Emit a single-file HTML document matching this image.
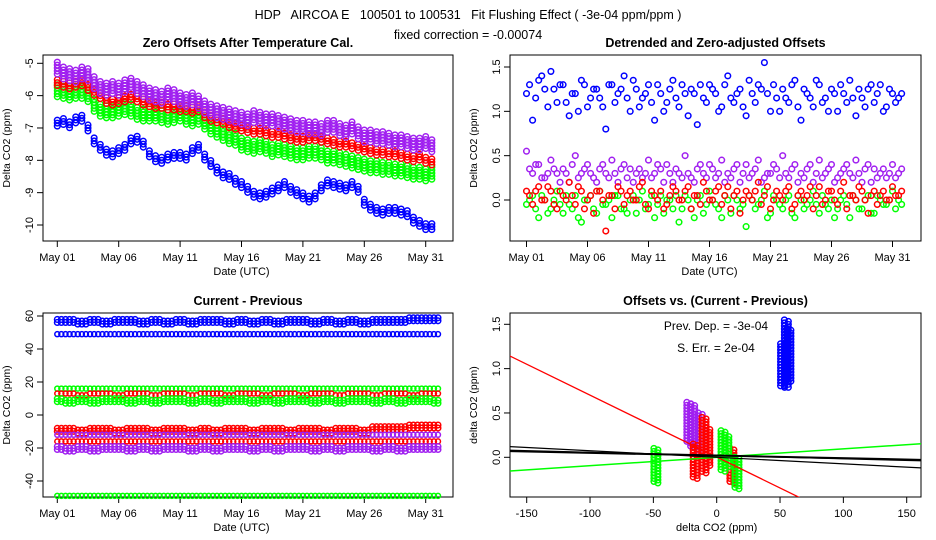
<!DOCTYPE html>
<html><head><meta charset="utf-8"><style>
html,body{margin:0;padding:0;background:#fff}
svg{display:block;font-family:"Liberation Sans",sans-serif}
</style></head><body>
<svg id="c" width="936" height="540" viewBox="0 0 936 540">
<text x="468" y="19" text-anchor="middle" font-size="12.5" style="white-space:pre" xml:space="preserve">HDP   AIRCOA E   100501 to 100531   Fit Flushing Effect ( -3e-04 ppm/ppm )</text>
<text x="468" y="39" text-anchor="middle" font-size="12.5">fixed correction = -0.00074</text>
</svg>
<script>
// ---------- data ----------
const dayLabels = ["May 01","May 06","May 11","May 16","May 21","May 26","May 31"];
const dayTicks = [0,5,10,15,20,25,30];
const p1Ticks = [-5,-6,-7,-8,-9,-10];
const p2Ticks = [0,0.5,1,1.5];
const p2TickLabels = ["0.0","0.5","1.0","1.5"];
const p3Ticks = [60,40,20,0,-20,-40];
const p4XTicks = [-150,-100,-50,0,50,100,150];
const p4YTicks = [0,0.5,1,1.5];

const p1Purple = [-5.15,-5.3,-5.35,-5.4,-5.3,-5.35,-5.6,-5.75,-5.8,-5.75,-5.8,-5.7,-5.65,-5.75,-5.85,-5.95,-6.0,-6.05,-5.95,-6.0,-6.1,-6.15,-6.1,-6.2,-6.35,-6.45,-6.5,-6.55,-6.6,-6.65,-6.7,-6.75,-6.65,-6.7,-6.75,-6.75,-6.8,-6.85,-6.9,-6.95,-6.95,-7.0,-7.0,-7.05,-6.95,-6.95,-7.05,-7.1,-7.0,-7.15,-7.25,-7.25,-7.3,-7.3,-7.35,-7.4,-7.4,-7.45,-7.5,-7.5,-7.45,-7.55];
const p1Red = [-5.6,-5.65,-5.7,-5.65,-5.6,-5.75,-5.9,-6.0,-6.15,-6.2,-6.15,-6.1,-6.05,-6.1,-6.2,-6.25,-6.3,-6.3,-6.35,-6.35,-6.4,-6.4,-6.45,-6.4,-6.6,-6.7,-6.75,-6.8,-6.9,-6.95,-7.0,-7.05,-7.1,-7.1,-7.15,-7.2,-7.2,-7.25,-7.3,-7.35,-7.35,-7.3,-7.3,-7.35,-7.4,-7.45,-7.5,-7.5,-7.55,-7.6,-7.65,-7.7,-7.75,-7.75,-7.8,-7.8,-7.85,-7.9,-7.95,-7.9,-8.0,-8.05];
const p1Green = [-5.85,-5.9,-5.95,-5.9,-5.9,-6.0,-6.3,-6.45,-6.5,-6.5,-6.45,-6.4,-6.45,-6.55,-6.6,-6.6,-6.6,-6.65,-6.7,-6.65,-6.6,-6.7,-6.75,-6.7,-6.85,-7.0,-7.1,-7.2,-7.3,-7.35,-7.5,-7.55,-7.6,-7.55,-7.6,-7.7,-7.65,-7.7,-7.75,-7.8,-7.8,-7.75,-7.75,-7.8,-7.9,-7.9,-7.95,-8.0,-8.05,-8.1,-8.15,-8.2,-8.2,-8.25,-8.25,-8.3,-8.3,-8.35,-8.4,-8.4,-8.45,-8.4];
const p1Blue = [-6.85,-6.8,-6.9,-6.75,-6.7,-7.0,-7.4,-7.6,-7.75,-7.8,-7.7,-7.6,-7.4,-7.35,-7.5,-7.8,-7.95,-8.0,-7.9,-7.85,-7.85,-7.9,-7.7,-7.6,-7.9,-8.1,-8.3,-8.45,-8.5,-8.65,-8.75,-8.9,-9.05,-9.1,-9.05,-8.95,-8.85,-8.75,-8.9,-9.0,-9.1,-9.2,-9.1,-8.85,-8.7,-8.75,-8.8,-8.85,-8.75,-8.9,-9.3,-9.45,-9.55,-9.6,-9.55,-9.55,-9.6,-9.65,-9.85,-9.95,-10.05,-10.05];

const p2Blue = [1.2,0.9,1.35,1.25,1.45,1.1,1.3,0.95,1.2,1.35,1.05,1.25,1.15,0.8,1.3,1.2,1.4,1.0,1.25,1.15,1.3,0.9,1.2,1.1,1.35,1.05,1.2,1.25,0.85,1.15,1.3,1.2,1.05,1.4,1.1,1.25,0.95,1.2,1.3,1.55,1.0,1.15,1.25,1.1,1.35,0.9,1.2,1.05,1.3,1.15,1.25,1.0,1.2,1.35,0.95,1.15,1.25,1.1,1.3,1.05,1.2,1.15];
const p2BlueB = [1.3,1.15,1.4,1.05,1.25,1.3,1.1,1.2,1.0,1.3,1.15,1.25,1.05,1.3,1.1,1.25,1.15,1.35,1.05,1.2,1.1,1.3,1.0,1.25,1.15,1.3,0.95,1.2,1.3,1.1,1.25,1.0,1.3,1.15,1.2,1.05,1.35,1.1,1.25,1.2,1.3,1.0,1.15,1.3,1.05,1.25,1.15,1.35,1.1,1.0,1.2,1.3,1.1,1.15,1.25,1.05,1.3,1.2,1.0,1.25,1.1,1.2];
const p2Purple = [0.55,0.3,0.4,0.25,0.45,0.3,0.35,0.2,0.5,0.3,0.4,0.25,0.35,0.3,0.45,0.2,0.4,0.35,0.3,0.25,0.45,0.3,0.35,0.4,0.2,0.3,0.5,0.25,0.35,0.3,0.4,0.25,0.45,0.3,0.35,0.2,0.4,0.3,0.45,0.25,0.3,0.35,0.5,0.25,0.4,0.3,0.35,0.2,0.45,0.3,0.4,0.25,0.35,0.3,0.45,0.2,0.4,0.35,0.3,0.25,0.4,0.3];
const p2PurpleB = [0.35,0.4,0.25,0.3,0.35,0.2,0.3,0.4,0.25,0.35,0.3,0.2,0.4,0.25,0.3,0.35,0.25,0.2,0.35,0.3,0.25,0.4,0.2,0.3,0.35,0.25,0.3,0.2,0.4,0.25,0.35,0.3,0.2,0.25,0.4,0.3,0.25,0.35,0.2,0.3,0.4,0.25,0.3,0.35,0.2,0.25,0.4,0.3,0.25,0.35,0.2,0.3,0.4,0.25,0.3,0.35,0.2,0.25,0.35,0.3,0.25,0.35];
const p2Red = [0.1,-0.05,0.15,0.0,0.1,-0.1,0.05,0.2,-0.05,0.1,0.0,-0.15,0.1,-0.35,0.05,0.15,-0.05,0.1,0.0,0.2,-0.1,0.05,0.1,-0.05,0.15,0.0,0.1,-0.1,0.05,0.2,0.0,0.1,-0.05,0.15,0.05,-0.15,0.1,0.0,0.2,0.05,-0.1,0.1,0.0,0.15,-0.05,0.1,0.05,-0.1,0.15,0.0,0.1,-0.05,0.2,0.05,0.0,0.1,-0.15,0.1,0.05,0.0,0.15,0.05];
const p2RedB = [0.05,0.1,0.0,0.15,-0.05,0.1,0.0,0.05,0.15,-0.1,0.05,0.1,0.0,0.05,-0.1,0.1,0.05,0.0,0.15,-0.05,0.1,0.0,-0.1,0.05,0.1,0.0,0.15,0.05,-0.05,0.1,0.0,0.15,0.05,-0.1,0.1,0.0,0.05,0.1,-0.05,0.15,0.0,0.05,0.1,-0.1,0.05,0.0,0.15,0.05,-0.05,0.1,0.0,0.1,-0.1,0.05,0.15,0.0,0.05,-0.05,0.1,0.0,0.05,0.1];
const p2Green = [-0.05,0.05,-0.2,0.0,-0.1,0.1,-0.15,-0.05,0.05,-0.25,0.0,-0.1,0.1,-0.05,-0.2,0.05,-0.1,0.0,-0.15,0.1,-0.05,-0.2,0.05,0.0,-0.1,-0.25,0.05,-0.1,0.0,-0.15,0.1,-0.05,-0.2,0.0,0.05,-0.1,-0.3,0.0,-0.05,0.1,-0.15,0.0,-0.1,0.05,-0.2,0.0,-0.05,0.1,-0.15,-0.05,0.0,-0.1,0.05,-0.2,0.0,-0.1,0.05,-0.15,0.0,-0.05,0.1,0.0];
const p2GreenB = [0.0,-0.1,0.05,-0.15,0.0,-0.05,0.05,-0.1,-0.2,0.0,0.05,-0.15,-0.05,0.0,0.05,-0.1,-0.15,0.05,0.0,-0.1,0.05,-0.05,-0.15,0.0,0.05,-0.1,0.0,-0.2,0.05,-0.05,0.0,-0.1,0.05,-0.15,0.0,-0.05,0.05,-0.1,0.0,-0.2,0.05,-0.05,0.0,-0.15,0.05,-0.1,0.0,-0.05,0.05,-0.1,-0.2,0.0,-0.05,0.05,-0.1,0.0,-0.15,0.05,-0.05,0.0,-0.1,-0.05];

const p3BlueA = [57,57,56,57,56,57,57,56,57,56,57,56,57,57,56,57,56,57,56,57,57,56,57,56,57,56,57,57,57,58,58,58];
const p3BlueB = [49,49,49,49,49,49,49,49,49,49,49,49,49,49,49,49,49,49,49,49,49,49,49,49,49,49,49,49,49,49,49,49];
const p3GreenA = [16,16,16,16,16,16,16,16,16,16,16,16,16,16,16,16,16,16,16,16,16,16,16,16,16,16,16,16,16,16,16,16];
const p3RedA = [13,13,12,13,13,12,13,13,12,13,13,12,13,13,12,13,13,12,13,13,12,13,13,12,13,13,12,13,13,12,13,13];
const p3GreenB = [9,8,9,8,9,9,8,9,8,9,9,8,9,8,9,9,8,9,8,9,9,8,9,8,9,9,8,9,8,9,9,8];
const p3RedB = [-9,-9,-10,-9,-9,-10,-9,-9,-10,-9,-9,-10,-9,-10,-9,-9,-10,-9,-9,-10,-9,-9,-10,-9,-9,-10,-8,-8,-8,-7,-7,-7];
const p3PurpleA = [-12,-12,-12,-12,-12,-12,-12,-12,-12,-12,-12,-12,-12,-12,-12,-12,-12,-12,-12,-12,-12,-12,-12,-12,-12,-12,-12,-12,-12,-12,-12,-12];
const p3RedC = [-16,-16,-16,-16,-16,-16,-16,-16,-16,-16,-16,-16,-16,-16,-16,-16,-16,-16,-16,-16,-16,-16,-16,-16,-16,-16,-16,-16,-16,-16,-16,-16];
const p3PurpleB = [-20,-21,-20,-21,-20,-20,-21,-20,-21,-20,-20,-21,-20,-21,-20,-20,-21,-20,-21,-20,-20,-21,-20,-21,-20,-20,-21,-20,-21,-20,-20,-20];
const p3GreenC = [-49,-49,-49,-49,-49,-49,-49,-49,-49,-49,-49,-49,-49,-49,-49,-49,-49,-49,-49,-49,-49,-49,-49,-49,-49,-49,-49,-49,-49,-49,-49,-49];

const p4ClusterX = [52,55,57,-22,-19,-13,-17,-10,-7,12,-48,5,8,16];
const p4ClusterYmin = [0.78,0.8,0.85,0.15,0.1,0.0,-0.23,-0.18,-0.1,-0.3,-0.3,-0.15,-0.1,-0.35];
const p4ClusterYmax = [1.28,1.55,1.45,0.62,0.6,0.5,0.15,0.45,0.33,0.1,0.1,0.3,0.25,0.0];
const p4ClusterColor = ["#00f","#00f","#00f","#a020f0","#a020f0","#a020f0","#f00","#f00","#f00","#f00","#0f0","#0f0","#0f0","#0f0"];
const p4LineSlope = [-0.00698,0.00095,-0.00074,-0.00037,-0.0003];
const p4LineIntercept = [0.003,0.0,0.0,0.02,0.02];
const p4LineColor = ["#f00","#0f0","#000","#000","#000"];
const p4LineWidth = [1.3,1.5,1.2,1.2,2];

// ---------- drawing ----------
const svg = document.getElementById('c');
const NS = 'http://www.w3.org/2000/svg';
function mk(tag, attrs, parent){
  const e = document.createElementNS(NS, tag);
  for (const k in attrs) e.setAttribute(k, attrs[k]);
  (parent||svg).appendChild(e);
  return e;
}
function txt(x,y,s,size,anchor,rot,bold,parent){
  const t = mk('text',{x:x,y:y,'font-size':size,'text-anchor':anchor||'middle'},parent);
  if (rot) t.setAttribute('transform','rotate(-90 '+x+' '+y+')');
  if (bold) { t.setAttribute('font-weight','bold'); }
  t.textContent = s;
  return t;
}
function lin(d0,d1,r0,r1){ return v => r0 + (v-d0)*(r1-r0)/(d1-d0); }

function frame(name, x0,x1,y0,y1, title){
  const g = mk('g',{});
  
  
  const r = mk('rect',{x:x0,y:y0,width:x1-x0,height:y1-y0,fill:'none',stroke:'#000','stroke-width':1},g);
  
  
  const t = txt((x0+x1)/2, y0-8, title, 12.5, 'middle', false, true, g);
  
  
  return g;
}
function xAxis(g, ticks, labels, sx, yb, title){
  const ax = mk('g',{},g);
  
  
  mk('line',{x1:sx(ticks[0]),x2:sx(ticks[ticks.length-1]),y1:yb,y2:yb,stroke:'#000'},ax);
  ticks.forEach((v,i)=>{
    mk('line',{x1:sx(v),x2:sx(v),y1:yb,y2:yb+6,stroke:'#000'},ax);
    const t = txt(sx(v), yb+20, labels[i], 11, 'middle', false, false, ax);
    
    
  });
  const tt = txt(0,0,title,11,'middle',false,false,ax);
  tt.setAttribute('x', (sx(ticks[0])+sx(ticks[ticks.length-1]))/2);
  tt.setAttribute('y', yb+34);
  
  
}
function yAxis(g, ticks, labels, sy, xl, title, ymid){
  const ax = mk('g',{},g);
  
  
  const ys = ticks.map(sy);
  mk('line',{x1:xl,x2:xl,y1:Math.min(...ys),y2:Math.max(...ys),stroke:'#000'},ax);
  ticks.forEach((v,i)=>{
    mk('line',{x1:xl-6,x2:xl,y1:sy(v),y2:sy(v),stroke:'#000'},ax);
    const t = txt(xl-10, sy(v), labels[i], 11, 'middle', true, false, ax);
    
    
  });
  const tt = txt(xl-33, ymid, title, 10.5, 'middle', true, false, ax);
  
  
}
function circle(g, x, y, color, r){
  const c = mk('circle',{cx:x,cy:y,r:r||2.8,fill:'none',stroke:color,'stroke-width':1.5},g);
  
  
}
function series(g, name, vals, step, sx, sy, color, band, offset){
  const sg = mk('g',{},g);
  
  
  vals.forEach((v,i)=>{
    const x = sx(i*step+(offset||0)), y = sy(v);
    if (band) { for (let k=-band;k<=band;k+=3) circle(sg, x, y+k, color); }
    else circle(sg, x, y, color);
  });
}

// Panel 1
{
  const x0=43,x1=453,y0=55,y1=241;
  const sx = lin(0,30,57.3,425.7), sy = lin(-5,-10,63.3,225);
  const g = frame('panel-zero-offsets',x0,x1,y0,y1,'Zero Offsets After Temperature Cal.');
  xAxis(g, dayTicks, dayLabels, sx, y1, 'Date (UTC)');
  yAxis(g, p1Ticks, p1Ticks.map(String), sy, x0, 'Delta CO2 (ppm)', (y0+y1)/2);
  series(g,'series-green',p1Green,0.5,sx,sy,'#0f0',6);
  series(g,'series-red',p1Red,0.5,sx,sy,'#f00',3);
  series(g,'series-purple',p1Purple,0.5,sx,sy,'#a020f0',6);
  series(g,'series-blue',p1Blue,0.5,sx,sy,'#00f',3);
}
// Panel 2
{
  const x0=510,x1=921,y0=55,y1=241;
  const sx = lin(0,30,526.5,892.5), sy = lin(0,1.5,200,67);
  const g = frame('panel-detrended',x0,x1,y0,y1,'Detrended and Zero-adjusted Offsets');
  xAxis(g, dayTicks, dayLabels, sx, y1, 'Date (UTC)');
  yAxis(g, p2Ticks, p2TickLabels, sy, x0, 'Delta CO2 (ppm)', (y0+y1)/2);
  series(g,'series-blue',p2Blue,0.5,sx,sy,'#00f',0);
  series(g,'series-blue-b',p2BlueB,0.5,sx,sy,'#00f',0,0.25);
  series(g,'series-purple',p2Purple,0.5,sx,sy,'#a020f0',0);
  series(g,'series-purple-b',p2PurpleB,0.5,sx,sy,'#a020f0',0,0.25);
  series(g,'series-green',p2Green,0.5,sx,sy,'#0f0',0);
  series(g,'series-green-b',p2GreenB,0.5,sx,sy,'#0f0',0,0.25);
  series(g,'series-red',p2Red,0.5,sx,sy,'#f00',0);
  series(g,'series-red-b',p2RedB,0.5,sx,sy,'#f00',0,0.25);
}
// Panel 3
{
  const x0=43,x1=453,y0=313,y1=497;
  const sx = lin(0,30,57.3,425.7), sy = lin(60,-40,316,481);
  const g = frame('panel-current-previous',x0,x1,y0,y1,'Current - Previous');
  xAxis(g, dayTicks, dayLabels, sx, y1, 'Date (UTC)');
  yAxis(g, p3Ticks, p3Ticks.map(String), sy, x0, 'Delta CO2 (ppm)', (y0+y1)/2);
  const all = [[p3BlueA,'#00f',3],[p3BlueB,'#00f',0],[p3GreenA,'#0f0',0],[p3RedA,'#f00',0],[p3GreenB,'#0f0',3],
    [p3RedB,'#f00',3],[p3PurpleA,'#a020f0',0],[p3RedC,'#f00',0],[p3PurpleB,'#a020f0',3],[p3GreenC,'#0f0',0]];
  all.forEach((s,i)=>{
    const sg = mk('g',{},g);
    
    
    s[0].forEach((v,j)=>{
      for (let k=-1;k<=1;k++){ if (j*1+k*0.33<0||j+k*0.33>31.2) continue;
        if (s[2]) { circle(sg, sx(j+k*0.33), sy(v)-1.5, s[1]); circle(sg, sx(j+k*0.33), sy(v)+1.5, s[1]); }
        else circle(sg, sx(j+k*0.33), sy(v), s[1], 2.5);
      }
    });
  });
}
// Panel 4
{
  const x0=510,x1=921,y0=313,y1=497;
  const sx = lin(-150,150,526.7,906.7), sy = lin(0,1.5,457.3,324.3);
  const g = frame('panel-offsets-vs-diff',x0,x1,y0,y1,'Offsets vs. (Current - Previous)');
  xAxis(g, p4XTicks, p4XTicks.map(String), sx, y1, 'delta CO2 (ppm)');
  yAxis(g, p4YTicks, p2TickLabels, sy, x0, 'delta CO2 (ppm)', (y0+y1)/2);
  const cp = mk('clipPath',{id:'clip4'},g);
  mk('rect',{x:x0,y:y0,width:x1-x0,height:y1-y0},cp);
  const lg = mk('g',{'clip-path':'url(#clip4)'},g);
  p4ClusterX.forEach((cx,i)=>{
    const cg = mk('g',{},lg);
    
    
    const ya = sy(p4ClusterYmax[i]), yb = sy(p4ClusterYmin[i]);
    for (let y=ya; y<=yb; y+=3) { circle(cg, sx(cx)-2, y, p4ClusterColor[i]); circle(cg, sx(cx)+2, y+1.5, p4ClusterColor[i]); }
  });
  p4LineSlope.forEach((m,i)=>{
    const l = mk('line',{x1:sx(-165),y1:sy(p4LineIntercept[i]+m*-165),x2:sx(165),y2:sy(p4LineIntercept[i]+m*165),
      stroke:p4LineColor[i],'stroke-width':p4LineWidth[i]},lg);
    
    
  });
  const a = txt(716, 330, 'Prev. Dep. =  -3e-04', 12, 'middle', false, false, g);
  
  
  const b = txt(716, 352, 'S. Err. =  2e-04', 12, 'middle', false, false, g);
  
  
}
</script>
</body></html>
